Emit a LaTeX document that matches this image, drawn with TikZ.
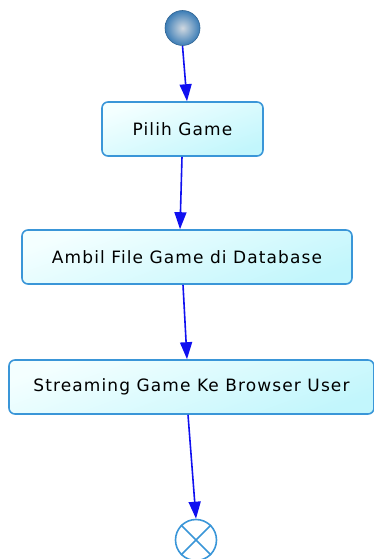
\documentclass[tikz,border=0pt]{standalone}
\usepackage{fontspec}
\setmainfont{DejaVu Sans}[LetterSpace=6.5]
\usetikzlibrary{arrows.meta,shapes.misc}
\definecolor{edgeblue}{HTML}{3A96D8}
\definecolor{flowblue}{HTML}{1010F0}
\definecolor{boxtop}{HTML}{F4FFFF}
\definecolor{boxbot}{HTML}{C2F6FC}
\definecolor{startin}{HTML}{D0D8E0}
\definecolor{startout}{HTML}{3C7DB6}
\tikzset{
  activity/.style={draw=edgeblue, line width=1.6pt, rounded corners=6pt,
    top color=boxtop, bottom color=boxbot, shading angle=20,
    minimum height=54pt, inner sep=0pt, text=black,
    font=\fontsize{17}{20}\selectfont},
  flow/.style={draw=flowblue, line width=1.6pt,
    -{Triangle[length=17pt,width=12pt]}},
  startnode/.style={circle, minimum size=35pt, inner sep=0pt,
    inner color=startin, outer color=startout,
    draw=startout!80!black, line width=0.6pt},
  endnode/.style={circle, minimum size=41pt, inner sep=0pt, draw=edgeblue,
    line width=1.6pt, fill=white}
}
\begin{document}
\begin{tikzpicture}[x=1pt,y=-1pt]
  \useasboundingbox (0,0) rectangle (373,559);
  \node[startnode] (s) at (182.5,28) {};
  \node[activity, minimum width=161pt] (a1) at (182.5,129) {Pilih Game};
  \node[activity, minimum width=330pt] (a2) at (187,257) {Ambil File Game di Database};
  \node[activity, minimum width=365pt] (a3) at (191.5,387) {Streaming Game Ke Browser User};
  \node[endnode] (e) at (196,540) {};
  \draw[edgeblue, line width=1.6pt] (e.45) -- (e.225) (e.135) -- (e.315);

  \draw[flow] (s.south) -- ([xshift=4.5pt]a1.north);
  \draw[flow] ([xshift=-0.5pt]a1.south) -- ([xshift=-7pt]a2.north);
  \draw[flow] ([xshift=-4pt]a2.south) -- ([xshift=-4.5pt]a3.north);
  \draw[flow] ([xshift=-3.5pt]a3.south) -- (e.north);
\end{tikzpicture}
\end{document}
